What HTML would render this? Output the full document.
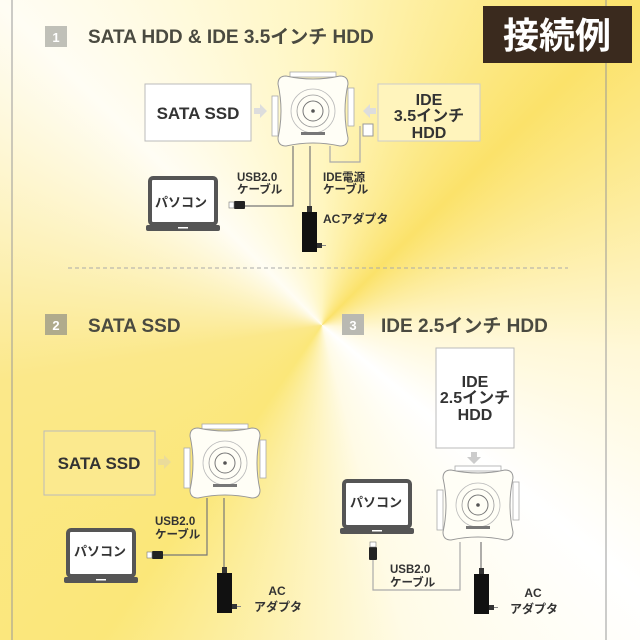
<!DOCTYPE html>
<html><head><meta charset="utf-8"><style>
html,body{margin:0;padding:0}
body{width:640px;height:640px;overflow:hidden;position:relative;
background:conic-gradient(from 0deg at 322px 325px,#fff6c0 0deg,#fbe26a 45deg,#fff8d8 95deg,#ffffff 130deg,#fffbe6 165deg,#fbe779 215deg,#fbe88a 260deg,#fffdf4 315deg,#fff6c0 360deg);
font-family:"Liberation Sans","Noto Sans CJK JP",sans-serif}
svg{position:absolute;left:0;top:0}
text{font-family:"Liberation Sans","Noto Sans CJK JP",sans-serif;font-weight:bold}
</style></head><body>
<svg width="640" height="640" viewBox="0 0 640 640">
<defs>
<g id="dev">
<rect x="12" y="-4" width="46" height="5" fill="#fff" stroke="#aaa" stroke-width="0.8"/>
<rect x="-6" y="20" width="6" height="40" fill="#fff" stroke="#aaa" stroke-width="0.8"/>
<rect x="70" y="12" width="6" height="38" fill="#fff" stroke="#aaa" stroke-width="0.8"/>
<path d="M8,0 Q35,6 62,0 Q70,0 70,8 Q64,35 70,62 Q70,70 62,70 Q35,64 8,70 Q0,70 0,62 Q6,35 0,8 Q0,0 8,0Z" fill="#fffef6" stroke="#999" stroke-width="1"/>
<circle cx="35" cy="35" r="22" fill="none" stroke="#bbb" stroke-width="0.8"/>
<circle cx="35" cy="35" r="16" fill="none" stroke="#999" stroke-width="0.8"/>
<circle cx="35" cy="35" r="10" fill="none" stroke="#777" stroke-width="1"/>
<circle cx="35" cy="35" r="1.8" fill="#555"/>
<rect x="23" y="56" width="24" height="3" fill="#777"/>
</g>
<g id="lap">
<rect x="2" y="0" width="66" height="46" rx="3" fill="#fff" stroke="#555" stroke-width="4"/>
<rect x="-2" y="47" width="74" height="6" rx="2" fill="#555"/>
<rect x="30" y="49" width="10" height="1.5" fill="#fff"/>
</g>
<g id="ac">
<rect x="0" y="0" width="15" height="40" fill="#111"/>
<rect x="5" y="-6" width="5" height="6" fill="#333"/>
<rect x="15" y="31" width="5" height="5" fill="#333"/>
<path d="M20,33.5 h4" stroke="#888" stroke-width="1"/>
</g>
</defs>

<line x1="12" y1="0" x2="12" y2="640" stroke="#999" stroke-width="1"/>
<line x1="606" y1="0" x2="606" y2="640" stroke="#999" stroke-width="1"/>

<!-- tag -->
<rect x="483" y="6" width="149" height="57" fill="#3a2a1e"/>
<text x="557" y="48" font-size="36" fill="#fff" text-anchor="middle">接続例</text>

<!-- headings -->
<rect x="45" y="26" width="22" height="21" fill="#c0c0b8"/>
<text x="56" y="42" font-size="13" fill="#fff" text-anchor="middle">1</text>
<text x="88" y="43" font-size="19" fill="#4a4a40">SATA HDD &amp; IDE 3.5インチ HDD</text>

<rect x="45" y="314" width="22" height="21" fill="#b0ab8c"/>
<text x="56" y="330" font-size="13" fill="#fff" text-anchor="middle">2</text>
<text x="88" y="332" font-size="19" fill="#4a4a40">SATA SSD</text>

<rect x="342" y="314" width="22" height="21" fill="#b9b9b2"/>
<text x="353" y="330" font-size="13" fill="#fff" text-anchor="middle">3</text>
<text x="381" y="332" font-size="19" fill="#4a4a40">IDE 2.5インチ HDD</text>

<line x1="68" y1="268" x2="568" y2="268" stroke="#aaa" stroke-width="1" stroke-dasharray="4,3"/>

<!-- Section 1 -->
<rect x="145" y="84" width="106" height="57" fill="#fff" stroke="#bbb"/>
<text x="198" y="119" font-size="17" fill="#333" text-anchor="middle">SATA SSD</text>
<path d="M254,108 h6 v-4 l7,7 l-7,7 v-4 h-6z" fill="#ddd"/>
<rect x="378" y="84" width="102" height="57" fill="#fff4bc" stroke="#ccc"/>
<text x="429" y="105" font-size="16" fill="#333" text-anchor="middle">IDE</text>
<text x="429" y="121" font-size="16" fill="#333" text-anchor="middle">3.5インチ</text>
<text x="429" y="138" font-size="16" fill="#333" text-anchor="middle">HDD</text>
<path d="M376,108 h-6 v-4 l-7,7 l7,7 v-4 h6z" fill="#ddd"/>
<use href="#dev" x="278" y="76"/>
<!-- IDE power cable -->
<path d="M330,146 v16 h30 v-36" fill="none" stroke="#aaa" stroke-width="1.2"/>
<rect x="363" y="124" width="10" height="12" fill="#fff" stroke="#999"/>
<!-- USB -->
<path d="M293,146 v60 h-48" fill="none" stroke="#777" stroke-width="1.2"/>
<rect x="234" y="201" width="11" height="8" rx="1" fill="#222"/>
<rect x="229" y="202" width="5" height="6" fill="#fff" stroke="#777" stroke-width="0.6"/>
<use href="#lap" x="148" y="178"/>
<text x="181" y="207" font-size="13" fill="#333" text-anchor="middle">パソコン</text>
<text x="237" y="181" font-size="11.5" fill="#333">USB2.0</text>
<text x="237" y="193" font-size="11.5" fill="#333">ケーブル</text>
<text x="323" y="181" font-size="11.5" fill="#333">IDE電源</text>
<text x="323" y="193" font-size="11.5" fill="#333">ケーブル</text>
<line x1="310" y1="146" x2="310" y2="206" stroke="#777" stroke-width="1.2"/>
<use href="#ac" x="302" y="212"/>
<text x="323" y="223" font-size="12" fill="#333">ACアダプタ</text>

<!-- Section 2 -->
<rect x="44" y="431" width="111" height="64" fill="#fbe98e" stroke="#bbb"/>
<text x="99" y="469" font-size="17" fill="#333" text-anchor="middle">SATA SSD</text>
<path d="M158,459 h6 v-4 l7,7 l-7,7 v-4 h-6z" fill="#eadb9a"/>
<use href="#dev" x="190" y="428"/>
<path d="M207,498 v57 h-44" fill="none" stroke="#777" stroke-width="1.2"/>
<rect x="152" y="551" width="11" height="8" rx="1" fill="#222"/>
<rect x="147" y="552" width="5" height="6" fill="#fff" stroke="#777" stroke-width="0.6"/>
<use href="#lap" x="66" y="530"/>
<text x="100" y="556" font-size="13" fill="#333" text-anchor="middle">パソコン</text>
<text x="155" y="525" font-size="11.5" fill="#333">USB2.0</text>
<text x="155" y="538" font-size="11.5" fill="#333">ケーブル</text>
<line x1="224" y1="498" x2="224" y2="567" stroke="#777" stroke-width="1.2"/>
<use href="#ac" x="217" y="573"/>
<text x="277" y="595" font-size="12" fill="#333" text-anchor="middle">AC</text>
<text x="278" y="611" font-size="12" fill="#333" text-anchor="middle">アダプタ</text>

<!-- Section 3 -->
<rect x="436" y="348" width="78" height="100" fill="#fff" stroke="#bbb"/>
<text x="475" y="387" font-size="16" fill="#333" text-anchor="middle">IDE</text>
<text x="475" y="403" font-size="16" fill="#333" text-anchor="middle">2.5インチ</text>
<text x="475" y="420" font-size="16" fill="#333" text-anchor="middle">HDD</text>
<path d="M471,452 h6 v5 h4 l-7,7 l-7,-7 h4z" fill="#ccc"/>
<use href="#dev" x="443" y="470"/>
<path d="M460,542 v48 h-87 v-30" fill="none" stroke="#aaa" stroke-width="1.2"/>
<rect x="369" y="547" width="8" height="13" rx="1" fill="#222"/>
<rect x="370" y="542" width="6" height="5" fill="#fff" stroke="#777" stroke-width="0.6"/>
<use href="#lap" x="342" y="481"/>
<text x="376" y="507" font-size="13" fill="#333" text-anchor="middle">パソコン</text>
<text x="390" y="573" font-size="11.5" fill="#333">USB2.0</text>
<text x="390" y="586" font-size="11.5" fill="#333">ケーブル</text>
<line x1="481" y1="542" x2="481" y2="568" stroke="#777" stroke-width="1.2"/>
<use href="#ac" x="474" y="574"/>
<text x="533" y="597" font-size="12" fill="#333" text-anchor="middle">AC</text>
<text x="534" y="613" font-size="12" fill="#333" text-anchor="middle">アダプタ</text>
</svg>
</body></html>
